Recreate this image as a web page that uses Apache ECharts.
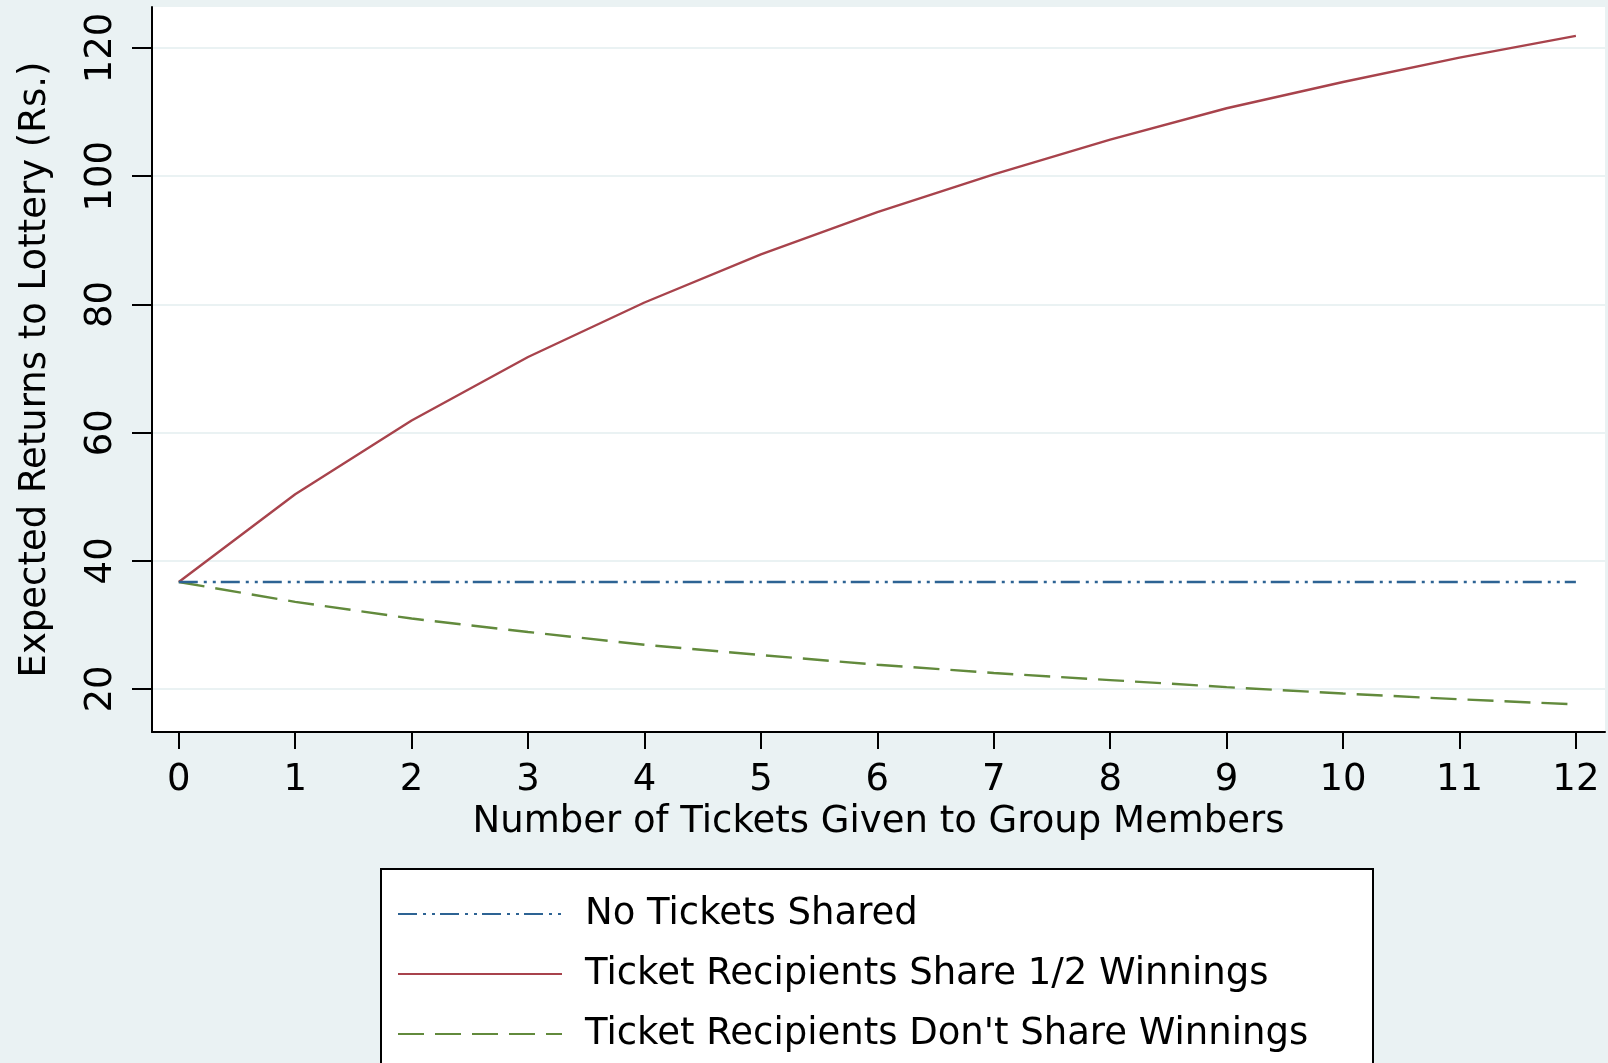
<!DOCTYPE html>
<html>
<head>
<meta charset="utf-8">
<script src="https://cdn.jsdelivr.net/npm/echarts@6/dist/echarts.min.js"></script>
<style>
html,body{margin:0;padding:0;background:#EAF2F3;}
#chart{width:1608px;height:1063px;}
</style>
</head>
<body>
<div id="chart"></div>
<script>
const tickets = [0,1,2,3,4,5,6,7,8,9,10,11,12];
const noShare = [36.7,36.7,36.7,36.7,36.7,36.7,36.7,36.7,36.7,36.7,36.7,36.7,36.7];
const shareHalf = [36.7,50.4,61.9,71.8,80.3,87.8,94.4,100.3,105.7,110.6,114.7,118.5,121.9];
const dontShare = [36.7,33.6,31.0,28.9,26.9,25.3,23.8,22.5,21.4,20.3,19.3,18.4,17.6];
const yTicks = [20,40,60,80,100,120];
const xTicks = [0,1,2,3,4,5,6,7,8,9,10,11,12];
const seriesNames = ['No Tickets Shared','Ticket Recipients Share 1/2 Winnings',"Ticket Recipients Don't Share Winnings"];

const FONT = '"DejaVu Sans","Liberation Sans",sans-serif';
const pair = arr => tickets.map((t,i)=>[t,arr[i]]);

const chart = echarts.init(document.getElementById('chart'), null, {renderer:'canvas'});
chart.setOption({
  backgroundColor:'#EAF2F3',
  animation:false,
  textStyle:{fontFamily:FONT},
  grid:{left:152,top:7,right:3,bottom:331,show:true,backgroundColor:'#ffffff',borderWidth:0},
  graphic:[{
    type:'rect', left:380, top:868,
    shape:{width:992, height:220},
    style:{fill:'#ffffff', stroke:'#000000', lineWidth:2}, z:-1
  }],
  legend:{
    orient:'vertical', left:397, top:895, padding:0,
    itemWidth:164, itemHeight:36, itemGap:22,
    icon:'inherit',
    itemStyle:{opacity:0, borderWidth:0},
    data:seriesNames,
    textStyle:{fontFamily:FONT,fontSize:37,color:'#000',lineHeight:38,padding:[0,0,0,18]},
    selectedMode:false
  },
  xAxis:{
    type:'value', min:-0.23, max:12.25,
    name:'Number of Tickets Given to Group Members',
    nameLocation:'middle', nameGap:64,
    nameTextStyle:{fontFamily:FONT,fontSize:37,color:'#000'},
    axisLine:{show:true,onZero:false,lineStyle:{color:'#000',width:2}},
    axisTick:{show:true,length:17,lineStyle:{color:'#000',width:2},customValues:xTicks},
    axisLabel:{fontFamily:FONT,fontSize:37,color:'#000',margin:30,customValues:xTicks,formatter:v=>String(v)},
    splitLine:{show:false}
  },
  yAxis:{
    type:'value', min:13.3, max:126.4,
    name:'Expected Returns to Lottery (Rs.)',
    nameLocation:'middle', nameGap:98,
    nameTextStyle:{fontFamily:FONT,fontSize:37,color:'#000'},
    axisLine:{show:true,onZero:false,lineStyle:{color:'#000',width:2}},
    axisTick:{show:true,length:20,lineStyle:{color:'#000',width:2},customValues:yTicks},
    axisLabel:{fontFamily:FONT,fontSize:37,color:'#000',margin:32,rotate:90,customValues:yTicks,formatter:v=>String(v)},
    splitLine:{show:true,lineStyle:{color:'#EAF2F3',width:2}}
  },
  series:[
    {name:seriesNames[0],type:'line',data:pair(noShare),symbol:'none',
     lineStyle:{color:'#2D6393',width:2.4,type:[19,6,3,6,3,5]},itemStyle:{color:'#2D6393'},z:3},
    {name:seriesNames[1],type:'line',data:pair(shareHalf),symbol:'none',
     lineStyle:{color:'#A8434C',width:2.4,type:'solid'},itemStyle:{color:'#A8434C'},z:2},
    {name:seriesNames[2],type:'line',data:pair(dontShare),symbol:'none',
     lineStyle:{color:'#628A3C',width:2.4,type:[26,11]},itemStyle:{color:'#628A3C'},z:2}
  ]
});
</script>
</body>
</html>
